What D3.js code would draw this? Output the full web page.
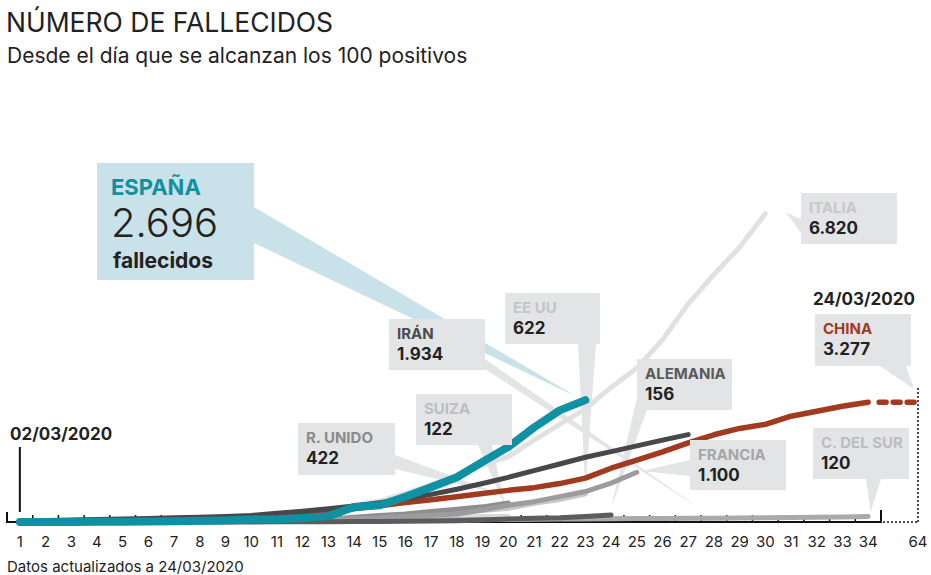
<!DOCTYPE html>
<html>
<head>
<meta charset="utf-8">
<script src="https://cdn.jsdelivr.net/npm/d3@7"></script>
<style>
  body { margin: 0; background: #fff; }
  svg text { font-family: Inter, 'Noto Sans', sans-serif; }
</style>
</head>
<body>
<svg id="chart" width="931" height="575"></svg>
<script>
// deaths per day since each country reached 100 positives
const espana  = [0, 1, 2, 3, 5, 10, 17, 28, 35, 54, 62, 90, 130, 330, 370, 560, 770, 990, 1330, 1660, 2090, 2470, 2696];
const italia  = [7, 10, 12, 17, 21, 29, 34, 52, 79, 107, 148, 197, 233, 366, 463, 631, 827, 1016, 1266, 1441, 1809, 2158, 2503, 2978, 3405, 4032, 4825, 5476, 6077, 6820];
const china   = [17, 18, 26, 35, 42, 55, 65, 85, 100, 120, 145, 180, 225, 290, 360, 430, 490, 560, 630, 700, 760, 850, 970, 1190, 1370, 1550, 1750, 1930, 2070, 2160, 2340, 2450, 2560, 2650];
const iran    = [26, 34, 43, 54, 66, 77, 92, 107, 124, 145, 194, 237, 291, 354, 429, 514, 611, 724, 853, 988, 1135, 1284, 1433, 1556, 1685, 1812, 1934];
const francia = [2, 2, 3, 4, 4, 6, 9, 11, 19, 19, 33, 48, 61, 79, 91, 127, 148, 175, 264, 372, 450, 562, 674, 860, 1100];
const eeuu    = [6, 9, 11, 12, 15, 19, 22, 26, 30, 38, 41, 48, 57, 68, 86, 109, 150, 207, 256, 302, 414, 499, 622];
const runido  = [1, 2, 2, 3, 4, 6, 8, 8, 10, 21, 21, 56, 56, 104, 144, 177, 233, 281, 335, 422];
const alemania = [0, 0, 0, 0, 0, 0, 0, 0, 2, 2, 3, 3, 7, 9, 11, 17, 24, 28, 44, 67, 84, 94, 123, 156];
const suiza   = [1, 1, 1, 2, 2, 3, 4, 4, 11, 13, 14, 14, 27, 28, 41, 54, 75, 98, 120, 122];
const corea   = [1, 2, 2, 6, 8, 11, 12, 13, 13, 16, 17, 28, 28, 35, 35, 42, 44, 50, 53, 54, 60, 66, 66, 72, 75, 75, 81, 84, 91, 94, 102, 104, 111, 120];
const chinaLastDay = 64;

const dayLabels = d3.range(1, 35).concat([64]);
const labelNames  = ['ESPAÑA', 'IRÁN', 'EE UU', 'SUIZA', 'R. UNIDO', 'ALEMANIA', 'FRANCIA', 'ITALIA', 'CHINA', 'C. DEL SUR'];
const labelTotals = ['2.696', '1.934', '622', '122', '422', '156', '1.100', '6.820', '3.277', '120'];

const svg = d3.select('#chart');

// scales: days 1-34 evenly, then the axis is squeezed until day 64
const x = d3.scaleLinear().domain([0.5, 34.5, 64]).range([7, 881, 918]);
const y = d3.scaleLinear().domain([0, 7000]).range([522, 205.6]);

const line = d3.line()
    .x((d, i) => x(i + 1))
    .y(d => y(d));

// titles
svg.append('text').attr('x', 6).attr('y', 32)
    .attr('font-size', 26.5).attr('fill', '#222').text('NÚMERO DE FALLECIDOS');
svg.append('text').attr('x', 7).attr('y', 63)
    .attr('font-size', 21).attr('fill', '#222').text('Desde el día que se alcanzan los 100 positivos');

// callout layout: box [x, y, w, h], wedge base points and tip [day, deaths]
const callouts = [
    { box: [97, 163, 157, 117], base: [[254, 207], [254, 243]], tip: [22.7, 2760], fill: '#c9e1e8', color: '#12909f', big: true },
    { box: [389, 319, 96, 51], base: [[485, 359], [485, 369]], tip: [27.6, 240], fill: '#e3e4e6', color: '#4b4b4d' },
    { box: [505, 293, 95, 51], base: [[578, 344], [596, 344]], tip: [23.0, 700], fill: '#e3e4e6', color: '#c4c4c6' },
    { box: [416, 394, 96, 51], base: [[478, 445], [492, 445]], tip: [19.9, 310], fill: '#e3e4e6', color: '#bdbdbf' },
    { box: [298, 423, 97, 52], base: [[395, 455], [395, 469]], tip: [19.7, 620], fill: '#e3e4e6', color: '#8a8a8c' },
    { box: [637, 359, 95, 51], base: [[637, 398], [647, 410]], tip: [24.0, 310], fill: '#e3e4e6', color: '#5a5a5c' },
    { box: [690, 440, 96, 50], base: [[690, 460], [690, 476]], tip: [25.2, 1130], fill: '#e3e4e6', color: '#a6a6a8' },
    { box: [801, 193, 96, 51], base: [[801, 219], [801, 233]], tip: [30.8, 6850], fill: '#e3e4e6', color: '#c8c8ca' },
    { box: [815, 314, 96, 52], base: [[880, 366], [906, 366]], tip: [60.8, 2940], fill: '#e3e4e6', color: '#a33b22' },
    { box: [813, 428, 96, 51], base: [[866, 479], [881, 479]], tip: [34.1, 220], fill: '#e3e4e6', color: '#bdbdbf' }
];

// wedges sit under the lines
svg.append('g').selectAll('path')
    .data(callouts)
    .enter().append('path')
    .attr('fill', d => d.fill)
    .attr('d', d => `M${d.base[0][0]},${d.base[0][1]}L${x(d.tip[0])},${y(d.tip[1])}L${d.base[1][0]},${d.base[1][1]}Z`);

// axis
const axisG = svg.append('g');
axisG.append('line')
    .attr('x1', x(0.5)).attr('x2', x(34.5)).attr('y1', y(0)).attr('y2', y(0))
    .attr('stroke', '#111').attr('stroke-width', 2);
axisG.append('line')
    .attr('x1', x(0.5)).attr('x2', x(0.5)).attr('y1', y(0) - 10).attr('y2', y(0) + 1)
    .attr('stroke', '#111').attr('stroke-width', 2);
axisG.append('line')
    .attr('x1', x(34.5)).attr('x2', x(34.5)).attr('y1', y(0) - 12).attr('y2', y(0) + 1)
    .attr('stroke', '#111').attr('stroke-width', 2);
axisG.selectAll('.tick-mark')
    .data(d3.range(1.5, 34, 1))
    .enter().append('line')
    .attr('x1', d => x(d)).attr('x2', d => x(d))
    .attr('y1', y(0) - 7).attr('y2', y(0))
    .attr('stroke', '#111').attr('stroke-width', 1.5);
axisG.append('line')
    .attr('x1', x(34.5) + 2).attr('x2', x(chinaLastDay)).attr('y1', y(0)).attr('y2', y(0))
    .attr('stroke', '#111').attr('stroke-width', 1.5).attr('stroke-dasharray', '2,2');
axisG.append('line')
    .attr('x1', x(chinaLastDay)).attr('x2', x(chinaLastDay)).attr('y1', y(0)).attr('y2', y(china[china.length - 1]) - 16)
    .attr('stroke', '#111').attr('stroke-width', 1.5).attr('stroke-dasharray', '2,2');
axisG.selectAll('.day')
    .data(dayLabels)
    .enter().append('text')
    .attr('x', d => x(d)).attr('y', 547)
    .attr('text-anchor', 'middle').attr('font-size', 15).attr('fill', '#222')
    .text(d => d);

// series, back to front
const series = [
    { data: italia,   color: '#e1e1e3', width: 5 },
    { data: suiza,    color: '#d9d9db', width: 5 },
    { data: eeuu,     color: '#c8c8ca', width: 5 },
    { data: corea,    color: '#aaaaac', width: 5 },
    { data: runido,   color: '#8e8e90', width: 5 },
    { data: francia,  color: '#9c9c9e', width: 5 },
    { data: alemania, color: '#5c5c5e', width: 5 },
    { data: china,    color: '#a23a20', width: 5.5 },
    { data: iran,     color: '#48484a', width: 5 },
    { data: espana,   color: '#0e91a3', width: 8 }
];

svg.append('g').selectAll('path')
    .data(series)
    .enter().append('path')
    .attr('fill', 'none')
    .attr('stroke', d => d.color)
    .attr('stroke-width', d => d.width)
    .attr('stroke-linecap', 'round')
    .attr('stroke-linejoin', 'round')
    .attr('d', d => line(d.data));

// China keeps going until day 64: dashed continuation
svg.append('line')
    .attr('x1', x(34) + 11).attr('x2', x(chinaLastDay) - 2)
    .attr('y1', y(china[china.length - 1])).attr('y2', y(china[china.length - 1]))
    .attr('stroke', '#a23a20').attr('stroke-width', 5.5)
    .attr('stroke-linecap', 'round').attr('stroke-dasharray', '7,7');

// boxes and their texts on top
const boxes = svg.append('g').selectAll('g')
    .data(callouts)
    .enter().append('g');

boxes.append('rect')
    .attr('x', d => d.box[0]).attr('y', d => d.box[1])
    .attr('width', d => d.box[2]).attr('height', d => d.box[3])
    .attr('fill', d => d.fill);

boxes.append('text')
    .attr('x', d => d.box[0] + (d.big ? 14 : 8))
    .attr('y', d => d.box[1] + (d.big ? 32 : 20))
    .attr('font-size', d => d.big ? 22 : 15)
    .attr('font-weight', 700)
    .attr('fill', d => d.color)
    .text((d, i) => labelNames[i]);

boxes.append('text')
    .attr('x', d => d.box[0] + (d.big ? 14 : 8))
    .attr('y', d => d.box[1] + (d.big ? 74 : 41))
    .attr('font-size', d => d.big ? 40 : 17)
    .attr('font-weight', d => d.big ? 300 : 700)
    .attr('fill', '#222')
    .text((d, i) => labelTotals[i]);

svg.append('text').attr('x', 113).attr('y', 268)
    .attr('font-size', 21).attr('font-weight', 700).attr('fill', '#222').text('fallecidos');

// dates
svg.append('text').attr('x', 10).attr('y', 440)
    .attr('font-size', 17).attr('font-weight', 700).attr('fill', '#222').text('02/03/2020');
svg.append('line')
    .attr('x1', x(1)).attr('x2', x(1)).attr('y1', 447).attr('y2', y(0) - 10)
    .attr('stroke', '#111').attr('stroke-width', 2);
svg.append('text').attr('x', 813).attr('y', 305)
    .attr('font-size', 17).attr('font-weight', 700).attr('fill', '#222').text('24/03/2020');

// source note
svg.append('text').attr('x', 7).attr('y', 572)
    .attr('font-size', 15).attr('fill', '#222').text('Datos actualizados a 24/03/2020');
</script>
</body>
</html>
